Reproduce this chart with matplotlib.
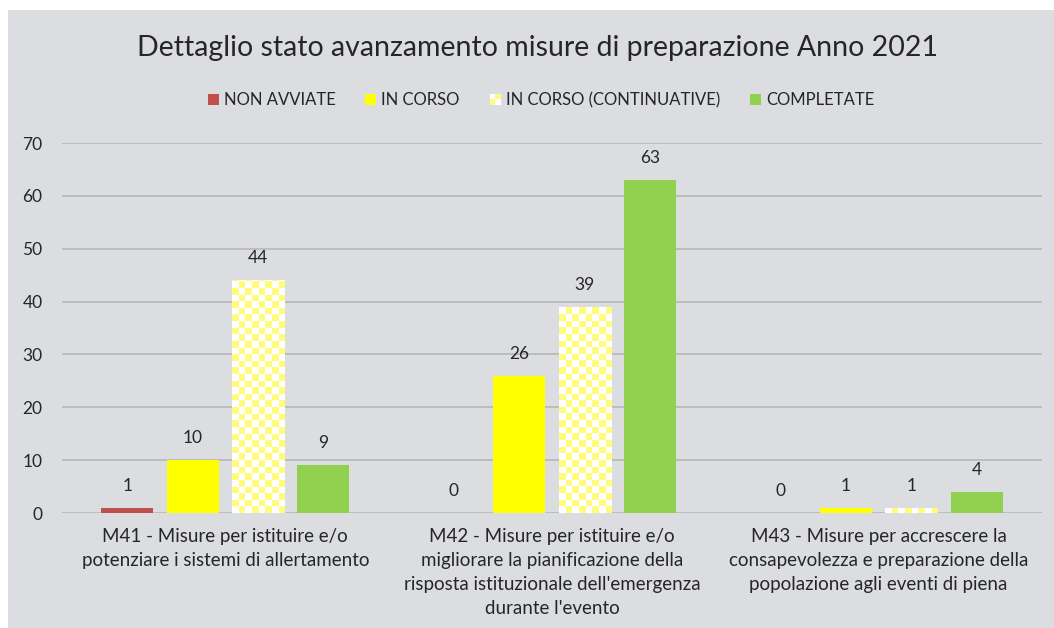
import numpy as np
import matplotlib
matplotlib.use("Agg")
import matplotlib.pyplot as plt
from matplotlib.colors import ListedColormap
from matplotlib.patches import Rectangle
from matplotlib.legend_handler import HandlerBase

categorie = [
    "M41 - Misure per istituire e/o\npotenziare i sistemi di allertamento",
    "M42 - Misure per istituire e/o\nmigliorare la pianificazione della\nrisposta istituzionale dell'emergenza\ndurante l'evento",
    "M43 - Misure per accrescere la\nconsapevolezza e preparazione della\npopolazione agli eventi di piena",
]
serie = ["NON AVVIATE", "IN CORSO", "IN CORSO (CONTINUATIVE)", "COMPLETATE"]
non_avviate = [1, 0, 0]
in_corso = [10, 26, 1]
in_corso_cont = [44, 39, 1]
completate = [9, 63, 4]
y_ticks = [0, 10, 20, 30, 40, 50, 60, 70]

colori = ["#c0504d", "#ffff00", None, "#92d050"]
giallo_chiaro = "#fffb7c"
sfondo = "#dcdde0"
testo = "#262626"

plt.rcParams["font.family"] = ["Lato", "DejaVu Sans"]

fig = plt.figure(figsize=(10.54, 6.28), dpi=100)
fig.patch.set_facecolor("white")
fig.patches.append(Rectangle((8 / 1054, 0), 1 - 8 / 1054, 1 - 10 / 628,
                             transform=fig.transFigure, facecolor=sfondo,
                             edgecolor="none", zorder=-10))

ax = fig.add_axes([62 / 1054, 1 - 513 / 628, 980 / 1054, 370 / 628])
ax.set_facecolor("none")

x = np.arange(len(categorie))
passo = 0.2
larg = 0.16
valori = [non_avviate, in_corso, in_corso_cont, completate]

contenitori = []
for i, (nome, vals) in enumerate(zip(serie, valori)):
    off = (i - 1.5) * passo
    col = "white" if colori[i] is None else colori[i]
    b = ax.bar(x + off, vals, larg, color=col, edgecolor="none", zorder=2, label=nome)
    contenitori.append(b)

# scacchiera per la serie continuativa
cmap = ListedColormap(["white", giallo_chiaro])
cw, ch = 0.0202, 1.25
for rect in contenitori[2]:
    h = rect.get_height()
    if h <= 0:
        continue
    x0 = rect.get_x()
    w = rect.get_width()
    nx = int(np.ceil(w / cw))
    ny = int(np.ceil(h / ch))
    ii, jj = np.indices((ny, nx))
    scacchi = (ii + jj) % 2
    im = ax.imshow(scacchi, cmap=cmap, extent=(x0, x0 + nx * cw, 0, ny * ch),
                   origin="lower", interpolation="nearest", aspect="auto", zorder=3)
    im.set_clip_path(rect)

for b in contenitori:
    for rect in b:
        ax.annotate(f"{int(rect.get_height())}",
                    (rect.get_x() + rect.get_width() / 2, rect.get_height()),
                    xytext=(0, 22), textcoords="offset pixels",
                    ha="center", va="center", fontsize=12.5, color=testo)

ax.set_xlim(-0.5, 2.5)
ax.set_ylim(0, 70)
ax.set_yticks(y_ticks)
ax.set_xticks(x)
ax.set_xticklabels(categorie, linespacing=1.5)
ax.tick_params(axis="y", length=0, pad=14, labelsize=12.5, labelcolor=testo)
ax.tick_params(axis="x", length=0, pad=11, labelsize=13.5, labelcolor=testo)
ax.yaxis.grid(True, color="#b4b4b4", linewidth=1.1, zorder=0)
ax.set_axisbelow(True)
for s in ax.spines.values():
    s.set_visible(False)

fig.text(538 / 1054, 1 - 48 / 628, "Dettaglio stato avanzamento misure di preparazione Anno 2021",
         ha="center", va="center", fontsize=20.5, color=testo)


class Scacchiera(HandlerBase):
    def create_artists(self, legend, orig_handle, xdescent, ydescent,
                       width, height, fontsize, trans):
        pezzi = []
        n = 2
        for r in range(n):
            for c in range(n):
                col = giallo_chiaro if (r + c) % 2 == 0 else "white"
                pezzi.append(Rectangle((-xdescent + c * width / n, -ydescent + r * height / n),
                                       width / n, height / n, facecolor=col,
                                       edgecolor="none", transform=trans))
        return pezzi


leg = fig.legend(contenitori, serie, loc="center", bbox_to_anchor=(541 / 1054, 1 - 100 / 628),
                 ncol=4, frameon=False, fontsize=12, handlelength=0.66, handleheight=0.66,
                 handletextpad=0.3, columnspacing=1.8, labelcolor=testo,
                 handler_map={contenitori[2]: Scacchiera()})

fig.savefig("out.png", dpi=100, facecolor=fig.get_facecolor())
